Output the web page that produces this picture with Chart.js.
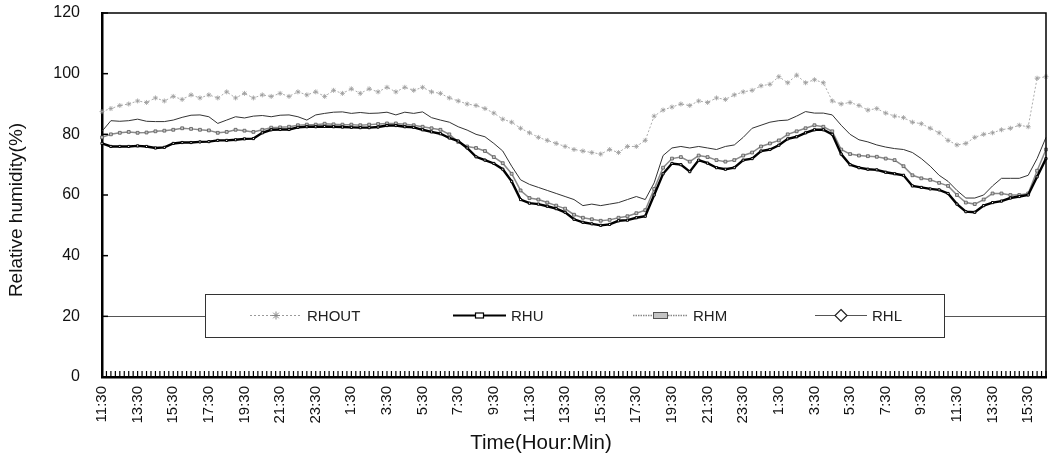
<!DOCTYPE html>
<html>
<head>
<meta charset="utf-8">
<script src="https://cdn.jsdelivr.net/npm/chart.js@4.4.1/dist/chart.umd.min.js"></script>
<style>
  html, body { margin: 0; padding: 0; background: #fff; }
  #wrap { width: 1051px; height: 462px; }
</style>
</head>
<body>
<div id="wrap"><canvas id="chart" width="1051" height="462"></canvas></div>
<script>
// ─────────────────────────────────────────────────────────────
// DATA (half-hour readings, 11:30 day 1 → 16:30 day 3)
// ─────────────────────────────────────────────────────────────
const TIMES = [
  "11:30","12:00","12:30","13:00","13:30","14:00","14:30","15:00","15:30","16:00","16:30","17:00",
  "17:30","18:00","18:30","19:00","19:30","20:00","20:30","21:00","21:30","22:00","22:30","23:00",
  "23:30","0:00","0:30","1:00","1:30","2:00","2:30","3:00","3:30","4:00","4:30","5:00",
  "5:30","6:00","6:30","7:00","7:30","8:00","8:30","9:00","9:30","10:00","10:30","11:00",
  "11:30","12:00","12:30","13:00","13:30","14:00","14:30","15:00","15:30","16:00","16:30","17:00",
  "17:30","18:00","18:30","19:00","19:30","20:00","20:30","21:00","21:30","22:00","22:30","23:00",
  "23:30","0:00","0:30","1:00","1:30","2:00","2:30","3:00","3:30","4:00","4:30","5:00",
  "5:30","6:00","6:30","7:00","7:30","8:00","8:30","9:00","9:30","10:00","10:30","11:00",
  "11:30","12:00","12:30","13:00","13:30","14:00","14:30","15:00","15:30","16:00","16:30"
];

const RHOUT = [
  87.5, 88.5, 89.5, 90, 91, 90.5, 92, 91, 92.5, 91.5, 93, 92, 93, 92, 94, 92, 93.5, 92, 93, 92.5, 93.5, 92.5, 94, 93, 94, 92.5, 94.5,
  93.5, 95, 93.5, 95, 94, 95.5, 94, 95.5, 94.5, 95.5, 94, 93.5, 92, 91, 90, 89.5, 88.5, 87, 85, 84, 82, 80.5, 79, 78, 77, 76, 75,
  74.5, 74, 73.5, 75, 74, 76, 76, 78, 86, 88, 89, 90, 89.5, 91, 90.5, 92, 91.5, 93, 94, 94.5, 96, 96.5, 99, 97, 99.5, 97, 98,
  97, 91, 90, 90.5, 89.5, 88, 88.5, 87, 86, 85.5, 84, 83.5, 82, 80.5, 78, 76.5, 77, 79, 80, 80.5, 81.5, 82, 83, 82.5, 98.5, 99
];

const RHU = [
  77, 76, 76, 76, 76.2, 76, 75.5, 75.7, 77, 77.3, 77.3, 77.5, 77.6, 78, 78, 78.2, 78.5, 78.6, 80.5, 81.5, 81.6, 81.6, 82.3, 82.5, 82.5, 82.6, 82.5,
  82.4, 82.3, 82.2, 82.2, 82.4, 82.9, 82.9, 82.5, 82.3, 81.5, 80.8, 80.2, 78.8, 77.8, 75.5, 72.6, 71.5, 70.4, 68.5, 64.5, 58.5, 57.3, 57, 56.3, 55.5, 54.3, 52,
  51, 50.5, 50, 50.3, 51.5, 51.7, 52.5, 53, 60, 67, 70.4, 70, 67.7, 71.5, 70.5, 69, 68.5, 69, 71.5, 72, 74.5, 75, 76.4, 78.5, 79.2, 80.5, 81.5,
  81.5, 80, 73.5, 70, 69, 68.5, 68.3, 67.5, 67, 66.5, 63, 62.5, 62, 61.7, 60.5, 57, 54.5, 54.3, 56.5, 57.5, 58, 59, 59.5, 60, 66, 72
];

const RHM = [
  79, 80, 80.5, 80.8, 80.5, 80.6, 81, 81.2, 81.5, 82, 81.8, 81.5, 81.3, 80.5, 80.8, 81.5, 81.2, 80.8, 81.5, 82.2, 82.3, 82.5, 83, 83.2, 83.2, 83.5, 83.3,
  83.2, 83.2, 83, 83.2, 83.4, 83.6, 83.6, 83.3, 83, 82.5, 82, 81.5, 80, 77.5, 76, 75.5, 74.5, 72.5, 70.5, 67, 61.5, 59, 58.5, 57.5, 56.5, 55.5, 53.5,
  52.5, 52, 51.5, 51.8, 52.5, 53, 54, 55, 62, 69, 72, 72.5, 71, 73, 72.5, 71.5, 71, 71.5, 73, 74, 76, 77, 78, 80, 81, 82, 83,
  82.5, 81, 75, 73.5, 73, 72.8, 72.6, 72, 71.5, 69.5, 66.5, 65.5, 65, 64, 63, 60, 57.5, 57, 58.5, 60.5, 60.5, 60, 60, 60.5, 68, 75
];

const RHL = [
  81, 84.5, 84.3, 84.5, 85, 84.3, 84.2, 84.2, 84.7, 85.6, 86.3, 86.4, 85.8, 83.6, 84.7, 85.8, 85.4, 86, 86.2, 85.8, 86.3, 86.4, 85.8, 84.7, 86.4, 86.9, 87.3,
  87.4, 86.9, 87.2, 86.9, 87, 87.3, 86.4, 87.3, 86.9, 87.4, 85.5, 84.7, 84, 82.5, 81.4, 80, 79.2, 77, 74.5, 69.5, 65, 63.5, 62.5, 61.5, 60.5, 59.5, 58.5,
  56.5, 57, 56.5, 57, 57.5, 58.5, 59.5, 58.5, 64, 73, 75.5, 76, 75.5, 76, 75.5, 75, 76, 76.5, 79, 82, 83, 84, 84.5, 84.7, 86, 87.5, 87,
  87, 86.4, 83, 80, 78.2, 77.5, 76.5, 75.8, 75.3, 75, 74, 72, 69.5, 66.5, 64.5, 61.5, 59, 59, 60, 63, 65.5, 65.5, 65.5, 66.5, 72, 79
];

const Y_TICKS = [0, 20, 40, 60, 80, 100, 120];
const LABEL_EVERY = 4;   // one label every 2 hours

const FONT = "'Liberation Sans', Arial, sans-serif";

// ─────────────────────────────────────────────────────────────
// LEGEND BOX (drawn inside the plot, like the original)
// ─────────────────────────────────────────────────────────────
const LEGEND_BOX = { x: 205, y: 294, w: 739, h: 43 };
const LEGEND_ITEMS = [
  { text: "RHOUT", x0: 250, x1: 302, kind: "star" },
  { text: "RHU",   x0: 453, x1: 506, kind: "rect" },
  { text: "RHM",   x0: 633, x1: 688, kind: "hatch" },
  { text: "RHL",   x0: 815, x1: 867, kind: "diamond" },
];

function drawLegendItem(ctx, it, cy) {
  const cx = (it.x0 + it.x1) / 2;
  ctx.save();
  if (it.kind === "star") {
    ctx.strokeStyle = "#9a9a9a"; ctx.lineWidth = 1; ctx.setLineDash([2, 2]);
    ctx.beginPath(); ctx.moveTo(it.x0, cy); ctx.lineTo(it.x1, cy); ctx.stroke();
    ctx.setLineDash([]);
    ctx.strokeStyle = "#888";
    const r = 4;
    ctx.beginPath();
    ctx.moveTo(cx - r, cy); ctx.lineTo(cx + r, cy);
    ctx.moveTo(cx, cy - r); ctx.lineTo(cx, cy + r);
    ctx.moveTo(cx - r * 0.7, cy - r * 0.7); ctx.lineTo(cx + r * 0.7, cy + r * 0.7);
    ctx.moveTo(cx - r * 0.7, cy + r * 0.7); ctx.lineTo(cx + r * 0.7, cy - r * 0.7);
    ctx.stroke();
  } else if (it.kind === "rect") {
    ctx.strokeStyle = "#000"; ctx.lineWidth = 2;
    ctx.beginPath(); ctx.moveTo(it.x0, cy); ctx.lineTo(it.x1, cy); ctx.stroke();
    ctx.fillStyle = "#fff"; ctx.lineWidth = 1.2;
    ctx.fillRect(cx - 4, cy - 2.5, 8, 5); ctx.strokeRect(cx - 4, cy - 2.5, 8, 5);
  } else if (it.kind === "hatch") {
    ctx.strokeStyle = "#888"; ctx.lineWidth = 1.5; ctx.setLineDash([1.5, 1]);
    ctx.beginPath(); ctx.moveTo(it.x0, cy); ctx.lineTo(it.x1, cy); ctx.stroke();
    ctx.setLineDash([]);
    ctx.fillStyle = "#c4c4c4"; ctx.strokeStyle = "#555"; ctx.lineWidth = 1;
    ctx.fillRect(cx - 7, cy - 3, 14, 6); ctx.strokeRect(cx - 7, cy - 3, 14, 6);
  } else {
    ctx.strokeStyle = "#555"; ctx.lineWidth = 1;
    ctx.beginPath(); ctx.moveTo(it.x0, cy); ctx.lineTo(it.x1, cy); ctx.stroke();
    ctx.fillStyle = "#fff"; ctx.strokeStyle = "#222"; ctx.lineWidth = 1.2;
    const r = 6;
    ctx.beginPath();
    ctx.moveTo(cx, cy - r); ctx.lineTo(cx + r, cy); ctx.lineTo(cx, cy + r); ctx.lineTo(cx - r, cy);
    ctx.closePath(); ctx.fill(); ctx.stroke();
  }
  ctx.fillStyle = "#222";
  ctx.font = `15px ${FONT}`;
  ctx.textAlign = "left";
  ctx.textBaseline = "middle";
  ctx.fillText(it.text, it.x1 + 5, cy + 1);
  ctx.restore();
}

// frame, inward ticks, legend and axis titles
const framePlugin = {
  id: "frame",
  afterDraw(chart) {
    const { ctx, chartArea: a, scales: { x, y } } = chart;
    ctx.save();
    ctx.strokeStyle = "#000";

    // top + right border
    ctx.lineWidth = 1.5;
    ctx.beginPath();
    ctx.moveTo(a.left, a.top); ctx.lineTo(a.right, a.top); ctx.lineTo(a.right, a.bottom);
    ctx.stroke();

    // y ticks pointing inwards
    ctx.lineWidth = 1.5;
    Y_TICKS.forEach(v => {
      const py = y.getPixelForValue(v);
      ctx.beginPath(); ctx.moveTo(a.left, py); ctx.lineTo(a.left + 6, py); ctx.stroke();
    });

    // dense x ticks pointing inwards
    ctx.lineWidth = 1.2;
    for (let i = 0; i < TIMES.length; i++) {
      const px = x.getPixelForValue(i);
      ctx.beginPath(); ctx.moveTo(px, a.bottom); ctx.lineTo(px, a.bottom - 6); ctx.stroke();
      if (i < TIMES.length - 1) {
        const mid = (px + x.getPixelForValue(i + 1)) / 2;
        ctx.beginPath(); ctx.moveTo(mid, a.bottom); ctx.lineTo(mid, a.bottom - 6); ctx.stroke();
      }
    }

    // legend box
    const b = LEGEND_BOX;
    ctx.fillStyle = "#fff";
    ctx.fillRect(b.x, b.y, b.w, b.h);
    ctx.strokeStyle = "#333"; ctx.lineWidth = 1;
    ctx.strokeRect(b.x + 0.5, b.y + 0.5, b.w, b.h);
    LEGEND_ITEMS.forEach(it => drawLegendItem(ctx, it, b.y + b.h / 2));

    // axis titles
    ctx.fillStyle = "#111";
    ctx.textAlign = "center";
    ctx.textBaseline = "middle";
    ctx.font = `20.5px ${FONT}`;
    ctx.fillText("Time(Hour:Min)", 541, 443);
    ctx.font = `19px ${FONT}`;
    ctx.translate(17, 210);
    ctx.rotate(-Math.PI / 2);
    ctx.fillText("Relative humidity(%)", 0, 0);
    ctx.restore();
  }
};

// ─────────────────────────────────────────────────────────────
// CHART
// ─────────────────────────────────────────────────────────────
new Chart(document.getElementById("chart"), {
  type: "line",
  data: {
    labels: TIMES,
    datasets: [
      {
        label: "RHOUT", data: RHOUT,
        borderColor: "#ababab", borderWidth: 1, borderDash: [2, 2],
        pointStyle: "star", pointRadius: 2.5, pointBorderColor: "#9a9a9a", pointBorderWidth: 0.8,
      },
      {
        label: "RHU", data: RHU,
        borderColor: "#000", borderWidth: 2.4,
        pointStyle: "rect", pointRadius: 1.5, pointBackgroundColor: "#fff",
        pointBorderColor: "#000", pointBorderWidth: 1,
      },
      {
        label: "RHM", data: RHM,
        borderColor: "#8a8a8a", borderWidth: 1.5,
        pointStyle: "rect", pointRadius: 2, pointBackgroundColor: "#c8c8c8",
        pointBorderColor: "#555", pointBorderWidth: 0.8,
      },
      {
        label: "RHL", data: RHL,
        borderColor: "#333", borderWidth: 1, pointRadius: 0,
      },
    ]
  },
  options: {
    responsive: false,
    animation: false,
    devicePixelRatio: 1,
    layout: { padding: { top: 13, right: 2, left: 0, bottom: 0 } },
    elements: { line: { tension: 0 } },
    plugins: { legend: { display: false }, tooltip: { enabled: false } },
    scales: {
      x: {
        offset: false,
        grid: { display: false, drawTicks: false },
        border: { display: true, color: "#000", width: 2.5 },
        ticks: {
          autoSkip: false, minRotation: 90, maxRotation: 90, padding: 9,
          color: "#111", font: { family: FONT, size: 15 },
          callback: (v, i) => (i % LABEL_EVERY === 0 ? TIMES[i] : "")
        },
        afterFit: s => { s.height = 85; s.paddingLeft = 0; s.paddingRight = 0; }
      },
      y: {
        min: 0, max: 120,
        ticks: { stepSize: 20, padding: 22, color: "#111", font: { family: FONT, size: 16 } },
        grid: {
          drawTicks: false, lineWidth: 1,
          color: c => (c.tick && c.tick.value === 20 ? "#555" : "rgba(0,0,0,0)")
        },
        border: { color: "#000", width: 2.5 },
        afterFit: s => { s.width = 102; s.paddingTop = 0; s.paddingBottom = 0; }
      }
    }
  },
  plugins: [framePlugin]
});
</script>
</body>
</html>
